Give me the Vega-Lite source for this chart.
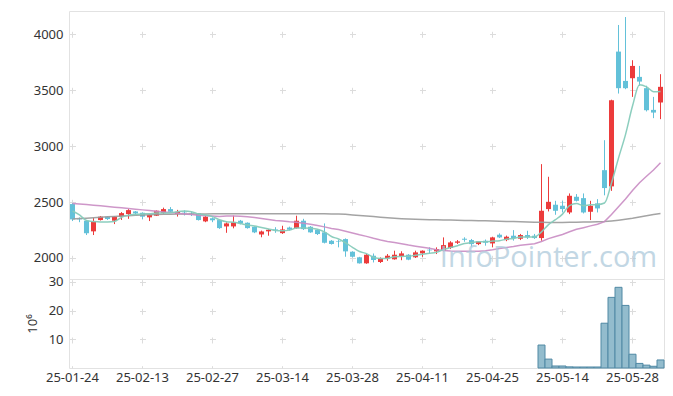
{
  "$schema": "https://vega.github.io/schema/vega-lite/v6.json",
  "padding": {"left": 25, "top": 10, "right": 5, "bottom": 5},
  "spacing": 0,
  "bounds": "flush",
  "config": {
    "view": {"stroke": "#e2e2e2", "strokeWidth": 1},
    "font": "Noto Sans",
    "axis": {"labelFont": "Noto Sans", "labelFontSize": 13, "labelColor": "#333333", "domain": false, "ticks": false, "gridColor": "#dcdcdc", "gridWidth": 1, "titleFont": "Noto Sans", "titleFontWeight": "normal", "titleFontSize": 13, "titleColor": "#333333"}
  },
  "datasets": {
    "k": [
      {"d": "25-01-24", "o": 2482, "h": 2490, "l": 2330, "c": 2345, "v": 0.12, "m5": 2420, "m20": 2488, "m120": 2348},
      {"d": "25-01-31", "o": 2352, "h": 2362, "l": 2320, "c": 2345, "v": 0.1, "m5": 2385, "m20": 2483, "m120": 2352},
      {"d": "25-02-03", "o": 2333, "h": 2340, "l": 2205, "c": 2220, "v": 0.15, "m5": 2335, "m20": 2478, "m120": 2356},
      {"d": "25-02-04", "o": 2238, "h": 2357, "l": 2205, "c": 2327, "v": 0.12, "m5": 2325, "m20": 2472, "m120": 2360},
      {"d": "25-02-05", "o": 2339, "h": 2375, "l": 2335, "c": 2369, "v": 0.08, "m5": 2321, "m20": 2466, "m120": 2364},
      {"d": "25-02-06", "o": 2369, "h": 2372, "l": 2340, "c": 2348, "v": 0.06, "m5": 2322, "m20": 2460, "m120": 2368},
      {"d": "25-02-07", "o": 2333, "h": 2372, "l": 2303, "c": 2369, "v": 0.07, "m5": 2327, "m20": 2454, "m120": 2371},
      {"d": "25-02-10", "o": 2369, "h": 2410, "l": 2340, "c": 2401, "v": 0.09, "m5": 2363, "m20": 2448, "m120": 2375},
      {"d": "25-02-11", "o": 2392, "h": 2437, "l": 2350, "c": 2428, "v": 0.1, "m5": 2383, "m20": 2442, "m120": 2378},
      {"d": "25-02-12", "o": 2416, "h": 2420, "l": 2385, "c": 2398, "v": 0.06, "m5": 2389, "m20": 2436, "m120": 2381},
      {"d": "25-02-13", "o": 2404, "h": 2408, "l": 2345, "c": 2369, "v": 0.07, "m5": 2393, "m20": 2430, "m120": 2384},
      {"d": "25-02-14", "o": 2363, "h": 2390, "l": 2330, "c": 2386, "v": 0.06, "m5": 2396, "m20": 2424, "m120": 2386},
      {"d": "25-02-17", "o": 2378, "h": 2425, "l": 2375, "c": 2422, "v": 0.08, "m5": 2401, "m20": 2418, "m120": 2388},
      {"d": "25-02-18", "o": 2401, "h": 2450, "l": 2395, "c": 2437, "v": 0.09, "m5": 2402, "m20": 2412, "m120": 2390},
      {"d": "25-02-19", "o": 2437, "h": 2455, "l": 2410, "c": 2413, "v": 0.07, "m5": 2405, "m20": 2406, "m120": 2391},
      {"d": "25-02-20", "o": 2392, "h": 2430, "l": 2370, "c": 2413, "v": 0.05, "m5": 2414, "m20": 2400, "m120": 2392},
      {"d": "25-02-21", "o": 2414, "h": 2425, "l": 2380, "c": 2408, "v": 0.05, "m5": 2419, "m20": 2394, "m120": 2393},
      {"d": "25-02-24", "o": 2402, "h": 2410, "l": 2375, "c": 2398, "v": 0.05, "m5": 2414, "m20": 2388, "m120": 2393},
      {"d": "25-02-25", "o": 2399, "h": 2400, "l": 2335, "c": 2339, "v": 0.07, "m5": 2394, "m20": 2382, "m120": 2394},
      {"d": "25-02-26", "o": 2327, "h": 2380, "l": 2320, "c": 2369, "v": 0.06, "m5": 2385, "m20": 2377, "m120": 2394},
      {"d": "25-02-27", "o": 2355, "h": 2362, "l": 2320, "c": 2337, "v": 0.05, "m5": 2370, "m20": 2375, "m120": 2395},
      {"d": "25-02-28", "o": 2339, "h": 2342, "l": 2260, "c": 2267, "v": 0.08, "m5": 2342, "m20": 2371, "m120": 2395},
      {"d": "25-03-04", "o": 2282, "h": 2318, "l": 2225, "c": 2309, "v": 0.07, "m5": 2324, "m20": 2375, "m120": 2395},
      {"d": "25-03-05", "o": 2282, "h": 2378, "l": 2265, "c": 2318, "v": 0.09, "m5": 2320, "m20": 2375, "m120": 2395},
      {"d": "25-03-06", "o": 2333, "h": 2340, "l": 2300, "c": 2309, "v": 0.05, "m5": 2308, "m20": 2372, "m120": 2395},
      {"d": "25-03-07", "o": 2315, "h": 2318, "l": 2262, "c": 2267, "v": 0.06, "m5": 2294, "m20": 2368, "m120": 2395},
      {"d": "25-03-10", "o": 2279, "h": 2282, "l": 2222, "c": 2229, "v": 0.08, "m5": 2286, "m20": 2361, "m120": 2395},
      {"d": "25-03-11", "o": 2210, "h": 2245, "l": 2185, "c": 2237, "v": 0.07, "m5": 2272, "m20": 2353, "m120": 2395},
      {"d": "25-03-12", "o": 2238, "h": 2258, "l": 2199, "c": 2252, "v": 0.05, "m5": 2259, "m20": 2344, "m120": 2395},
      {"d": "25-03-13", "o": 2255, "h": 2275, "l": 2225, "c": 2247, "v": 0.04, "m5": 2246, "m20": 2336, "m120": 2395},
      {"d": "25-03-14", "o": 2222, "h": 2288, "l": 2215, "c": 2255, "v": 0.05, "m5": 2244, "m20": 2331, "m120": 2395},
      {"d": "25-03-17", "o": 2272, "h": 2280, "l": 2245, "c": 2253, "v": 0.04, "m5": 2249, "m20": 2324, "m120": 2395},
      {"d": "25-03-18", "o": 2267, "h": 2378, "l": 2262, "c": 2333, "v": 0.12, "m5": 2268, "m20": 2320, "m120": 2395},
      {"d": "25-03-19", "o": 2333, "h": 2350, "l": 2250, "c": 2258, "v": 0.08, "m5": 2269, "m20": 2311, "m120": 2395},
      {"d": "25-03-20", "o": 2279, "h": 2285, "l": 2225, "c": 2229, "v": 0.05, "m5": 2266, "m20": 2301, "m120": 2395},
      {"d": "25-03-21", "o": 2252, "h": 2258, "l": 2205, "c": 2214, "v": 0.05, "m5": 2257, "m20": 2291, "m120": 2395},
      {"d": "25-03-24", "o": 2229, "h": 2309, "l": 2130, "c": 2136, "v": 0.1, "m5": 2234, "m20": 2278, "m120": 2395},
      {"d": "25-03-25", "o": 2154, "h": 2160, "l": 2120, "c": 2125, "v": 0.07, "m5": 2192, "m20": 2264, "m120": 2394},
      {"d": "25-03-26", "o": 2150, "h": 2160, "l": 2095, "c": 2145, "v": 0.06, "m5": 2170, "m20": 2254, "m120": 2393},
      {"d": "25-03-27", "o": 2169, "h": 2175, "l": 2011, "c": 2059, "v": 0.1, "m5": 2136, "m20": 2239, "m120": 2390},
      {"d": "25-03-28", "o": 2056, "h": 2060, "l": 2005, "c": 2011, "v": 0.08, "m5": 2095, "m20": 2223, "m120": 2385},
      {"d": "25-03-31", "o": 2006, "h": 2010, "l": 1950, "c": 1952, "v": 0.09, "m5": 2058, "m20": 2207, "m120": 2380},
      {"d": "25-04-01", "o": 1952, "h": 2035, "l": 1948, "c": 2029, "v": 0.08, "m5": 2039, "m20": 2193, "m120": 2375},
      {"d": "25-04-02", "o": 2020, "h": 2040, "l": 1960, "c": 1982, "v": 0.06, "m5": 2007, "m20": 2176, "m120": 2370},
      {"d": "25-04-03", "o": 1964, "h": 2005, "l": 1955, "c": 1999, "v": 0.05, "m5": 1995, "m20": 2161, "m120": 2365},
      {"d": "25-04-04", "o": 1994, "h": 2035, "l": 1975, "c": 2020, "v": 0.05, "m5": 1996, "m20": 2148, "m120": 2360},
      {"d": "25-04-07", "o": 1988, "h": 2065, "l": 1985, "c": 2029, "v": 0.08, "m5": 2012, "m20": 2138, "m120": 2355},
      {"d": "25-04-08", "o": 2017, "h": 2060, "l": 1980, "c": 2041, "v": 0.06, "m5": 2014, "m20": 2128, "m120": 2351},
      {"d": "25-04-09", "o": 2029, "h": 2035, "l": 1980, "c": 1985, "v": 0.05, "m5": 2015, "m20": 2115, "m120": 2348},
      {"d": "25-04-10", "o": 2006, "h": 2065, "l": 2000, "c": 2050, "v": 0.07, "m5": 2025, "m20": 2105, "m120": 2346},
      {"d": "25-04-11", "o": 2041, "h": 2068, "l": 2010, "c": 2065, "v": 0.06, "m5": 2034, "m20": 2096, "m120": 2344},
      {"d": "25-04-14", "o": 2074, "h": 2095, "l": 2040, "c": 2068, "v": 0.05, "m5": 2042, "m20": 2087, "m120": 2342},
      {"d": "25-04-15", "o": 2059, "h": 2095, "l": 2035, "c": 2080, "v": 0.06, "m5": 2050, "m20": 2074, "m120": 2341},
      {"d": "25-04-16", "o": 2065, "h": 2184, "l": 2060, "c": 2115, "v": 0.12, "m5": 2076, "m20": 2067, "m120": 2340},
      {"d": "25-04-17", "o": 2089, "h": 2150, "l": 2080, "c": 2139, "v": 0.08, "m5": 2093, "m20": 2062, "m120": 2339},
      {"d": "25-04-18", "o": 2136, "h": 2160, "l": 2125, "c": 2148, "v": 0.05, "m5": 2110, "m20": 2059, "m120": 2338},
      {"d": "25-04-21", "o": 2172, "h": 2185, "l": 2145, "c": 2163, "v": 0.06, "m5": 2129, "m20": 2060, "m120": 2336},
      {"d": "25-04-22", "o": 2160, "h": 2170, "l": 2100, "c": 2124, "v": 0.05, "m5": 2138, "m20": 2060, "m120": 2335},
      {"d": "25-04-23", "o": 2124, "h": 2150, "l": 2115, "c": 2148, "v": 0.04, "m5": 2144, "m20": 2060, "m120": 2333},
      {"d": "25-04-24", "o": 2154, "h": 2165, "l": 2110, "c": 2136, "v": 0.05, "m5": 2144, "m20": 2064, "m120": 2332},
      {"d": "25-04-25", "o": 2130, "h": 2190, "l": 2095, "c": 2184, "v": 0.07, "m5": 2151, "m20": 2073, "m120": 2330},
      {"d": "25-04-28", "o": 2208, "h": 2220, "l": 2178, "c": 2184, "v": 0.06, "m5": 2155, "m20": 2084, "m120": 2328},
      {"d": "25-04-29", "o": 2160, "h": 2200, "l": 2150, "c": 2190, "v": 0.05, "m5": 2168, "m20": 2093, "m120": 2327},
      {"d": "25-04-30", "o": 2199, "h": 2249, "l": 2155, "c": 2178, "v": 0.08, "m5": 2174, "m20": 2102, "m120": 2325},
      {"d": "25-05-02", "o": 2172, "h": 2215, "l": 2160, "c": 2205, "v": 0.06, "m5": 2188, "m20": 2113, "m120": 2324},
      {"d": "25-05-07", "o": 2205, "h": 2243, "l": 2170, "c": 2184, "v": 0.07, "m5": 2188, "m20": 2121, "m120": 2322},
      {"d": "25-05-08", "o": 2199, "h": 2215, "l": 2170, "c": 2178, "v": 0.05, "m5": 2187, "m20": 2128, "m120": 2320},
      {"d": "25-05-09", "o": 2178, "h": 2839, "l": 2154, "c": 2422, "v": 8.0, "m5": 2233, "m20": 2147, "m120": 2319},
      {"d": "25-05-12", "o": 2437, "h": 2726, "l": 2416, "c": 2502, "v": 3.1, "m5": 2298, "m20": 2173, "m120": 2318},
      {"d": "25-05-13", "o": 2476, "h": 2511, "l": 2386, "c": 2422, "v": 0.7, "m5": 2342, "m20": 2192, "m120": 2318},
      {"d": "25-05-14", "o": 2467, "h": 2511, "l": 2407, "c": 2437, "v": 0.7, "m5": 2392, "m20": 2210, "m120": 2318},
      {"d": "25-05-15", "o": 2407, "h": 2577, "l": 2392, "c": 2556, "v": 0.4, "m5": 2468, "m20": 2235, "m120": 2319},
      {"d": "25-05-16", "o": 2547, "h": 2571, "l": 2505, "c": 2511, "v": 0.35, "m5": 2486, "m20": 2256, "m120": 2320},
      {"d": "25-05-19", "o": 2535, "h": 2577, "l": 2398, "c": 2407, "v": 0.35, "m5": 2467, "m20": 2271, "m120": 2321},
      {"d": "25-05-20", "o": 2413, "h": 2511, "l": 2339, "c": 2467, "v": 0.35, "m5": 2476, "m20": 2287, "m120": 2322},
      {"d": "25-05-21", "o": 2488, "h": 2526, "l": 2407, "c": 2443, "v": 0.35, "m5": 2477, "m20": 2302, "m120": 2323},
      {"d": "25-05-22", "o": 2785, "h": 3053, "l": 2560, "c": 2625, "v": 15.6, "m5": 2491, "m20": 2325, "m120": 2325},
      {"d": "25-05-23", "o": 2640, "h": 3415, "l": 2600, "c": 3410, "v": 24.6, "m5": 2670, "m20": 2389, "m120": 2331},
      {"d": "25-05-26", "o": 3845, "h": 4083, "l": 3470, "c": 3518, "v": 28.1, "m5": 2893, "m20": 2458, "m120": 2338},
      {"d": "25-05-27", "o": 3583, "h": 4154, "l": 3509, "c": 3518, "v": 21.8, "m5": 3103, "m20": 2527, "m120": 2346},
      {"d": "25-05-28", "o": 3607, "h": 3768, "l": 3440, "c": 3717, "v": 4.8, "m5": 3358, "m20": 2604, "m120": 2355},
      {"d": "25-05-29", "o": 3619, "h": 3717, "l": 3540, "c": 3577, "v": 1.6, "m5": 3548, "m20": 2673, "m120": 2366},
      {"d": "25-05-30", "o": 3518, "h": 3540, "l": 3310, "c": 3321, "v": 1.0, "m5": 3530, "m20": 2730, "m120": 2377},
      {"d": "25-06-02", "o": 3324, "h": 3440, "l": 3250, "c": 3300, "v": 0.6, "m5": 3487, "m20": 2786, "m120": 2388},
      {"d": "25-06-04", "o": 3390, "h": 3643, "l": 3241, "c": 3530, "v": 2.8, "m5": 3489, "m20": 2852, "m120": 2398}
    ]
  },
  "vconcat": [
    {
      "width": 595,
      "height": 268,
      "data": {"name": "k"},
      "encoding": {
        "x": {"field": "d", "type": "ordinal", "sort": null, "scale": {"paddingInner": 0, "paddingOuter": 0},
          "axis": {"title": null, "labels": false, "values": ["25-01-24", "25-02-13", "25-02-27", "25-03-14", "25-03-28", "25-04-11", "25-04-25", "25-05-14", "25-05-28"], "grid": true, "gridDash": [6, 50], "gridDashOffset": 35.7}}
      },
      "layer": [
        {
          "mark": {"type": "rule", "strokeWidth": 1},
          "encoding": {
            "y": {"field": "l", "type": "quantitative", "title": null, "scale": {"domain": [1812, 4208], "nice": false, "zero": false},
              "axis": {"values": [2000, 2500, 3000, 3500, 4000], "format": "d", "labelPadding": 6, "grid": true, "gridDash": [6, 64], "gridDashOffset": 69.5}},
            "y2": {"field": "h"},
            "color": {"condition": {"test": "datum.c >= datum.o", "value": "#ec3b3b"}, "value": "#63c1d9"}
          }
        },
        {
          "mark": {"type": "bar", "width": {"band": 0.72}},
          "encoding": {
            "y": {"field": "o", "type": "quantitative", "title": null},
            "y2": {"field": "c"},
            "color": {"condition": {"test": "datum.c >= datum.o", "value": "#ec3b3b"}, "value": "#63c1d9"}
          }
        },
        {
          "mark": {"type": "line", "color": "#9a9a9a", "strokeWidth": 1.5, "opacity": 0.9},
          "encoding": {"y": {"field": "m120", "type": "quantitative", "title": null}}
        },
        {
          "mark": {"type": "line", "color": "#c98cc3", "strokeWidth": 1.5, "opacity": 0.9},
          "encoding": {"y": {"field": "m20", "type": "quantitative", "title": null}}
        },
        {
          "mark": {"type": "line", "color": "#86cbbb", "strokeWidth": 1.5, "opacity": 0.95, "interpolate": "monotone"},
          "encoding": {"y": {"field": "m5", "type": "quantitative", "title": null}}
        },
        {
          "data": {"values": [{}]},
          "mark": {"type": "text", "text": "InfoPointer.com", "font": "Open Sans", "fontSize": 29, "color": "#aecadb", "opacity": 0.75, "align": "center", "baseline": "middle"},
          "encoding": {"x": {"datum": "25-05-12"}, "y": {"datum": 2000}}
        }
      ]
    },
    {
      "width": 595,
      "height": 89,
      "data": {"name": "k"},
      "mark": {"type": "bar", "fill": "#93bccd", "stroke": "#5089a4", "strokeWidth": 1},
      "encoding": {
        "x": {"field": "d", "type": "ordinal", "sort": null, "scale": {"paddingInner": 0, "paddingOuter": 0},
          "axis": {"title": null, "labelAngle": 0, "labelPadding": 3, "values": ["25-01-24", "25-02-13", "25-02-27", "25-03-14", "25-03-28", "25-04-11", "25-04-25", "25-05-14", "25-05-28"], "grid": true, "gridDash": [6, 22.7], "gridDashOffset": 28.1}},
        "y": {"field": "v", "type": "quantitative", "scale": {"domain": [0, 31], "nice": false},
          "axis": {"title": "10⁶", "values": [10, 20, 30], "labelPadding": 6, "titlePadding": 9, "grid": true, "gridDash": [6, 64], "gridDashOffset": 69.5}},
        "strokeOpacity": {"condition": {"test": "datum.v < 0.2", "value": 0}, "value": 1},
        "fillOpacity": {"condition": {"test": "datum.v < 0.2", "value": 0}, "value": 1}
      }
    }
  ]
}
